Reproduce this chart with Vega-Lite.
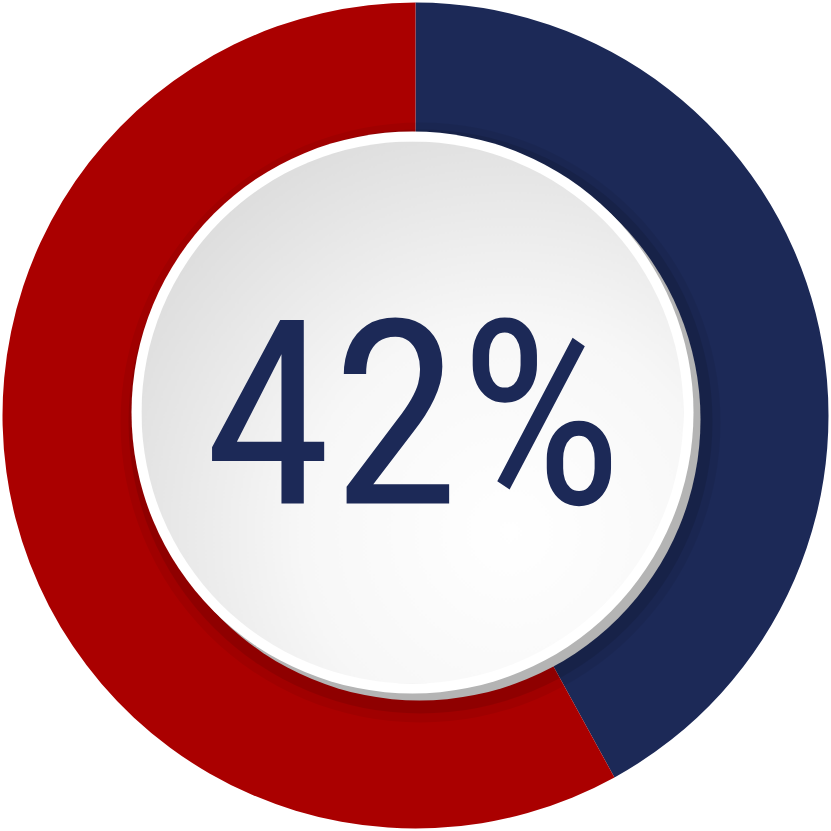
{
  "$schema": "https://vega.github.io/schema/vega-lite/v6.json",
  "autosize": {"type": "fit", "contains": "padding"},
  "width": 831,
  "height": 831,
  "padding": 0,
  "background": "#ffffff",
  "config": {"view": {"stroke": null}},
  "datasets": {
    "shares": [
      {"category": "Yes", "value": 42, "order": 1},
      {"category": "No", "value": 58, "order": 2}
    ],
    "disc": [{"value": 100}],
    "label": [{"text": "42%"}]
  },
  "layer": [
    {
      "data": {"name": "shares"},
      "mark": {"type": "arc", "outerRadius": 413, "innerRadius": 240},
      "encoding": {
        "theta": {"field": "value", "type": "quantitative", "stack": true},
        "order": {"field": "order", "type": "quantitative"},
        "color": {
          "field": "category",
          "type": "nominal",
          "scale": {"domain": ["Yes", "No"], "range": ["#1c2957", "#aa0000"]},
          "legend": null
        }
      }
    },
    {
      "data": {"name": "disc"},
      "mark": {"type": "arc", "outerRadius": 300, "innerRadius": 0, "color": "#000000", "opacity": 0.06, "xOffset": 5, "yOffset": 7},
      "encoding": {"theta": {"field": "value", "type": "quantitative"}}
    },
    {
      "data": {"name": "disc"},
      "mark": {"type": "arc", "outerRadius": 292, "innerRadius": 0, "color": "#000000", "opacity": 0.1, "xOffset": 5, "yOffset": 6},
      "encoding": {"theta": {"field": "value", "type": "quantitative"}}
    },
    {
      "data": {"name": "disc"},
      "mark": {"type": "arc", "outerRadius": 281, "innerRadius": 0, "color": "#b4b4b4", "xOffset": 4, "yOffset": 4},
      "encoding": {"theta": {"field": "value", "type": "quantitative"}}
    },
    {
      "data": {"name": "disc"},
      "mark": {"type": "arc", "outerRadius": 281, "innerRadius": 0, "color": "#ffffff", "xOffset": -3, "yOffset": -3},
      "encoding": {"theta": {"field": "value", "type": "quantitative"}}
    },
    {
      "data": {"name": "disc"},
      "mark": {
        "type": "arc",
        "outerRadius": 271,
        "innerRadius": 0,
        "xOffset": -3,
        "yOffset": -3,
        "color": {
          "gradient": "radial",
          "x1": 0.68, "y1": 0.72, "r1": 0,
          "x2": 0.68, "y2": 0.72, "r2": 0.85,
          "stops": [
            {"offset": 0, "color": "#ffffff"},
            {"offset": 0.45, "color": "#f7f7f7"},
            {"offset": 1, "color": "#d9d9d9"}
          ]
        }
      },
      "encoding": {"theta": {"field": "value", "type": "quantitative"}}
    },
    {
      "data": {"name": "label"},
      "mark": {
        "type": "text",
        "font": "Roboto Condensed, Roboto, sans-serif",
        "fontSize": 258,
        "fontWeight": 400,
        "color": "#1c2957",
        "baseline": "alphabetic",
        "align": "center",
        "dx": -2,
        "dy": 88
      },
      "encoding": {"text": {"field": "text", "type": "nominal"}}
    }
  ],
  "resolve": {"scale": {"theta": "independent", "color": "independent"}}
}
